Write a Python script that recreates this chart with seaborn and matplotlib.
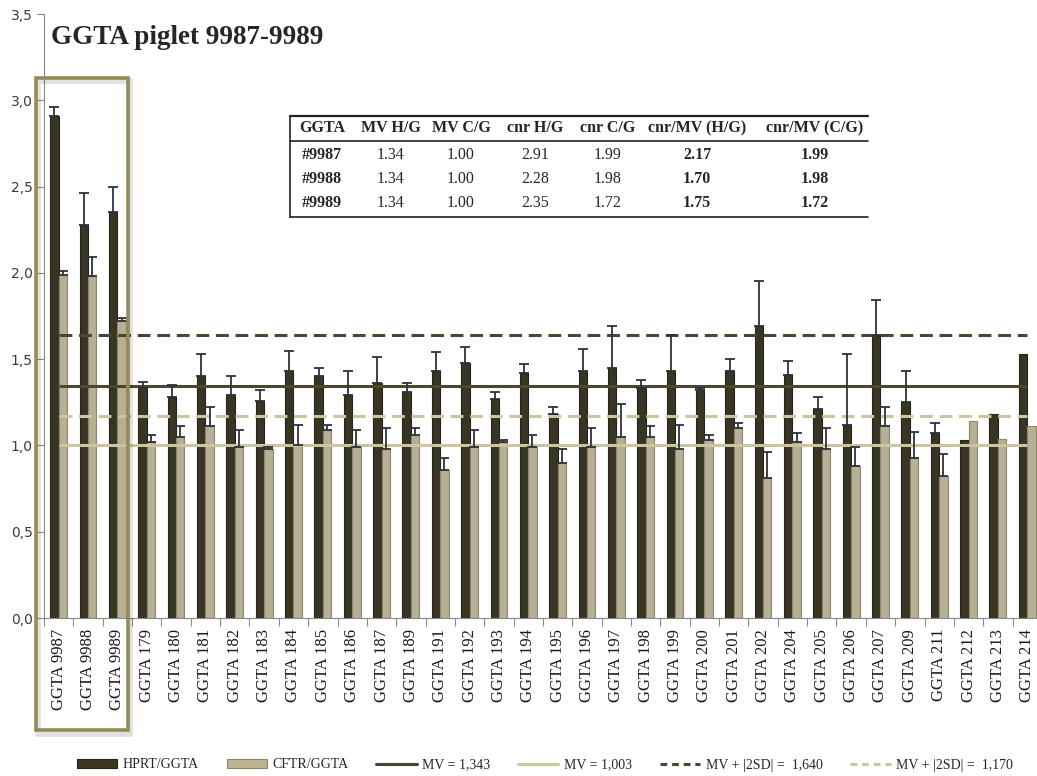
import numpy as np
import pandas as pd
import matplotlib
matplotlib.use("Agg")
import matplotlib.pyplot as plt
import seaborn as sns
from matplotlib.patches import Rectangle, Patch
from matplotlib.lines import Line2D
from matplotlib.ticker import FuncFormatter, FixedLocator

# ---- data -----------------------------------------------------------------
samples = ["GGTA 9987", "GGTA 9988", "GGTA 9989", "GGTA 179", "GGTA 180",
           "GGTA 181", "GGTA 182", "GGTA 183", "GGTA 184", "GGTA 185",
           "GGTA 186", "GGTA 187", "GGTA 189", "GGTA 191", "GGTA 192",
           "GGTA 193", "GGTA 194", "GGTA 195", "GGTA 196", "GGTA 197",
           "GGTA 198", "GGTA 199", "GGTA 200", "GGTA 201", "GGTA 202",
           "GGTA 204", "GGTA 205", "GGTA 206", "GGTA 207", "GGTA 209",
           "GGTA 211", "GGTA 212", "GGTA 213", "GGTA 214"]

hprt = [2.91, 2.28, 2.35, 1.33, 1.28, 1.40, 1.29, 1.26, 1.43, 1.40,
        1.29, 1.36, 1.31, 1.43, 1.48, 1.27, 1.42, 1.18, 1.43, 1.45,
        1.33, 1.43, 1.32, 1.43, 1.69, 1.41, 1.21, 1.12, 1.64, 1.25,
        1.07, 1.03, 1.18, 1.53]
hprt_err = [0.05, 0.18, 0.15, 0.04, 0.07, 0.13, 0.11, 0.06, 0.12, 0.05,
            0.14, 0.15, 0.05, 0.11, 0.09, 0.04, 0.05, 0.04, 0.13, 0.24,
            0.05, 0.21, 0.01, 0.07, 0.26, 0.08, 0.07, 0.41, 0.20, 0.18,
            0.06, 0.0, 0.0, 0.0]

cftr = [1.99, 1.98, 1.72, 1.02, 1.05, 1.11, 0.99, 0.98, 1.00, 1.09,
        0.99, 0.98, 1.06, 0.86, 0.99, 1.02, 0.99, 0.90, 0.99, 1.05,
        1.05, 0.98, 1.03, 1.10, 0.81, 1.02, 0.98, 0.88, 1.11, 0.93,
        0.82, 1.14, 1.04, 1.11]
cftr_err = [0.02, 0.11, 0.02, 0.04, 0.06, 0.11, 0.10, 0.01, 0.12, 0.03,
            0.10, 0.12, 0.04, 0.07, 0.10, 0.01, 0.07, 0.08, 0.11, 0.19,
            0.06, 0.14, 0.03, 0.03, 0.15, 0.05, 0.12, 0.11, 0.11, 0.15,
            0.13, 0.0, 0.0, 0.0]

series_names = ["HPRT/GGTA", "CFTR/GGTA"]
mv_hprt, mv_cftr = 1.343, 1.003
sd2_hprt, sd2_cftr = 1.640, 1.170

# summary table for the three piglets
tab_header = ["GGTA", "MV H/G", "MV C/G", "cnr H/G", "cnr C/G",
              "cnr/MV (H/G)", "cnr/MV (C/G)"]
tab_ids = ["#9987", "#9988", "#9989"]
tab_mv_h = ["1.34", "1.34", "1.34"]
tab_mv_c = ["1.00", "1.00", "1.00"]
tab_cnr_h = ["2.91", "2.28", "2.35"]
tab_cnr_c = ["1.99", "1.98", "1.72"]
tab_ratio_h = ["2.17", "1.70", "1.75"]
tab_ratio_c = ["1.99", "1.98", "1.72"]

# ---- style ------------------------------------------------------------------
DARK = "#3c3722"
DARK_EDGE = "#26231a"
LIGHT = "#bcb392"
LIGHT_EDGE = "#8d8769"
LINE_DARK = "#4b4630"
LINE_LIGHT = "#cdc5a0"
ERR = "#2c323c"
BOX = "#958b55"

sns.set_style("white")
plt.rcParams["font.family"] = ["DejaVu Sans"]
SERIF = ["Liberation Serif", "DejaVu Serif"]

W, H = 1037, 776
fig = plt.figure(figsize=(W / 100, H / 100), dpi=100)


def fx(px):
    return px / W


def fy(py):
    return 1 - py / H


ax = fig.add_axes([fx(44), fy(618), 34 * 29.35 / W, (618 - 14) / H])

df = pd.DataFrame({
    "sample": samples * 2,
    "series": [series_names[0]] * len(samples) + [series_names[1]] * len(samples),
    "ratio": hprt + cftr,
})

sns.barplot(data=df, x="sample", y="ratio", hue="series", order=samples,
            hue_order=series_names, palette=[DARK, LIGHT], width=0.572,
            gap=0, errorbar=None, legend=False, ax=ax, zorder=2)

edges = [DARK_EDGE, LIGHT_EDGE]
errs = [hprt_err, cftr_err]
for cont, ec, err in zip(ax.containers, edges, errs):
    xs, ys, es = [], [], []
    for bar, e in zip(cont, err):
        bar.set_edgecolor(ec)
        bar.set_linewidth(0.8)
        if e > 0:
            xs.append(bar.get_x() + bar.get_width() / 2)
            ys.append(bar.get_height())
            es.append(e)
    ax.errorbar(xs, ys, yerr=[np.zeros(len(es)), es], fmt="none",
                ecolor=ERR, elinewidth=1.3, capsize=3.5, capthick=1.3,
                zorder=4)

# reference lines (mean value and mean + |2SD|)
n = len(samples)
ax.hlines(mv_hprt, 0, n - 1, color=LINE_DARK, lw=2.2, zorder=3)
ax.hlines(mv_cftr, 0, n - 1, color=LINE_LIGHT, lw=2.2, zorder=3)
ax.hlines(sd2_hprt, 0, n - 1, color=LINE_DARK, lw=2.2, zorder=3,
          linestyles=(0, (4.2, 2.2)))
ax.hlines(sd2_cftr, 0, n - 1, color=LINE_LIGHT, lw=2.2, zorder=3,
          linestyles=(0, (4.2, 2.2)))

# axes
ax.set_xlim(-0.5, n - 0.5)
ax.set_ylim(0, 3.5)
ax.set_yticks(np.arange(0, 3.51, 0.5))
ax.yaxis.set_major_formatter(FuncFormatter(lambda v, p: f"{v:.1f}".replace(".", ",")))
ax.set_xlabel("")
ax.set_ylabel("")
ax.set_xticks(range(n))
ax.set_xticklabels(samples, rotation=90, family=SERIF, fontsize=12,
                   color="#1a1a1a")
ax.xaxis.set_minor_locator(FixedLocator(np.arange(-0.5, n, 1.0)))
ax.tick_params(axis="x", which="major", length=0, pad=8)
ax.tick_params(axis="x", which="minor", length=6, width=0.8, color="#8a8a8a",
               direction="out", bottom=True)
ax.tick_params(axis="y", length=5, width=0.8, color="#8a8a8a",
               direction="out", left=True, labelsize=10, labelcolor="#3a3a3a",
               pad=3)
for side in ["top", "right"]:
    ax.spines[side].set_visible(False)
for side in ["left", "bottom"]:
    ax.spines[side].set_color("#8a8a8a")
    ax.spines[side].set_linewidth(0.8)

# frame around the three piglets of interest
shadow = Rectangle((-0.71, -0.67), 3.13, 3.78, fill=False, edgecolor="#000000",
                   alpha=0.12, lw=4.0, clip_on=False, zorder=5)
ax.add_patch(shadow)
frame = Rectangle((-0.77, -0.65), 3.13, 3.78, fill=False, edgecolor=BOX,
                  lw=2.6, clip_on=False, zorder=6)
ax.add_patch(frame)

# title
fig.text(fx(51), fy(44), "GGTA piglet 9987-9989", family=SERIF,
         fontweight="bold", fontsize=19.5, va="baseline", ha="left")

# table
col_x = [322, 391, 461, 535, 608, 697, 815]
row_y = [155, 179, 203]
for cx, head in zip(col_x, tab_header):
    fig.text(fx(cx), fy(128), head, family=SERIF, fontweight="bold",
             fontsize=11.5, ha="center", va="center")
rows = list(zip(tab_ids, tab_mv_h, tab_mv_c, tab_cnr_h, tab_cnr_c,
                tab_ratio_h, tab_ratio_c))
for ry, row in zip(row_y, rows):
    for j, (cx, val) in enumerate(zip(col_x, row)):
        bold = j in (0, 5, 6)
        fig.text(fx(cx), fy(ry), val, family=SERIF,
                 fontweight="bold" if bold else "normal",
                 fontsize=11.5, ha="center", va="center")
for ly, lw in [(116, 1.6), (141, 1.2), (217, 1.2)]:
    fig.add_artist(Line2D([fx(290), fx(868)], [fy(ly), fy(ly)],
                          color="#222222", lw=lw, transform=fig.transFigure))
fig.add_artist(Line2D([fx(290), fx(290)], [fy(116), fy(217)],
                      color="#222222", lw=1.2, transform=fig.transFigure))

# legend
handles = [
    Patch(facecolor=DARK, edgecolor=DARK_EDGE, lw=0.8),
    Patch(facecolor=LIGHT, edgecolor=LIGHT_EDGE, lw=0.8),
    Line2D([], [], color=LINE_DARK, lw=2.2),
    Line2D([], [], color=LINE_LIGHT, lw=2.2),
    Line2D([], [], color=LINE_DARK, lw=2.2, dashes=(2.2, 1.6)),
    Line2D([], [], color=LINE_LIGHT, lw=2.2, dashes=(2.2, 1.6)),
]
labels = [series_names[0], series_names[1],
          f"MV = {mv_hprt:.3f}".replace(".", ","),
          f"MV = {mv_cftr:.3f}".replace(".", ","),
          f"MV + |2SD| =  {sd2_hprt:.3f}".replace(".", ","),
          f"MV + |2SD| =  {sd2_cftr:.3f}".replace(".", ",")]
fig.legend(handles, labels, loc="center", bbox_to_anchor=(fx(545), fy(765)),
           ncol=6, frameon=False, prop={"family": SERIF, "size": 10},
           handlelength=2.9, handleheight=0.6, handletextpad=0.4,
           columnspacing=2.0)

fig.savefig("out.png", dpi=100)
